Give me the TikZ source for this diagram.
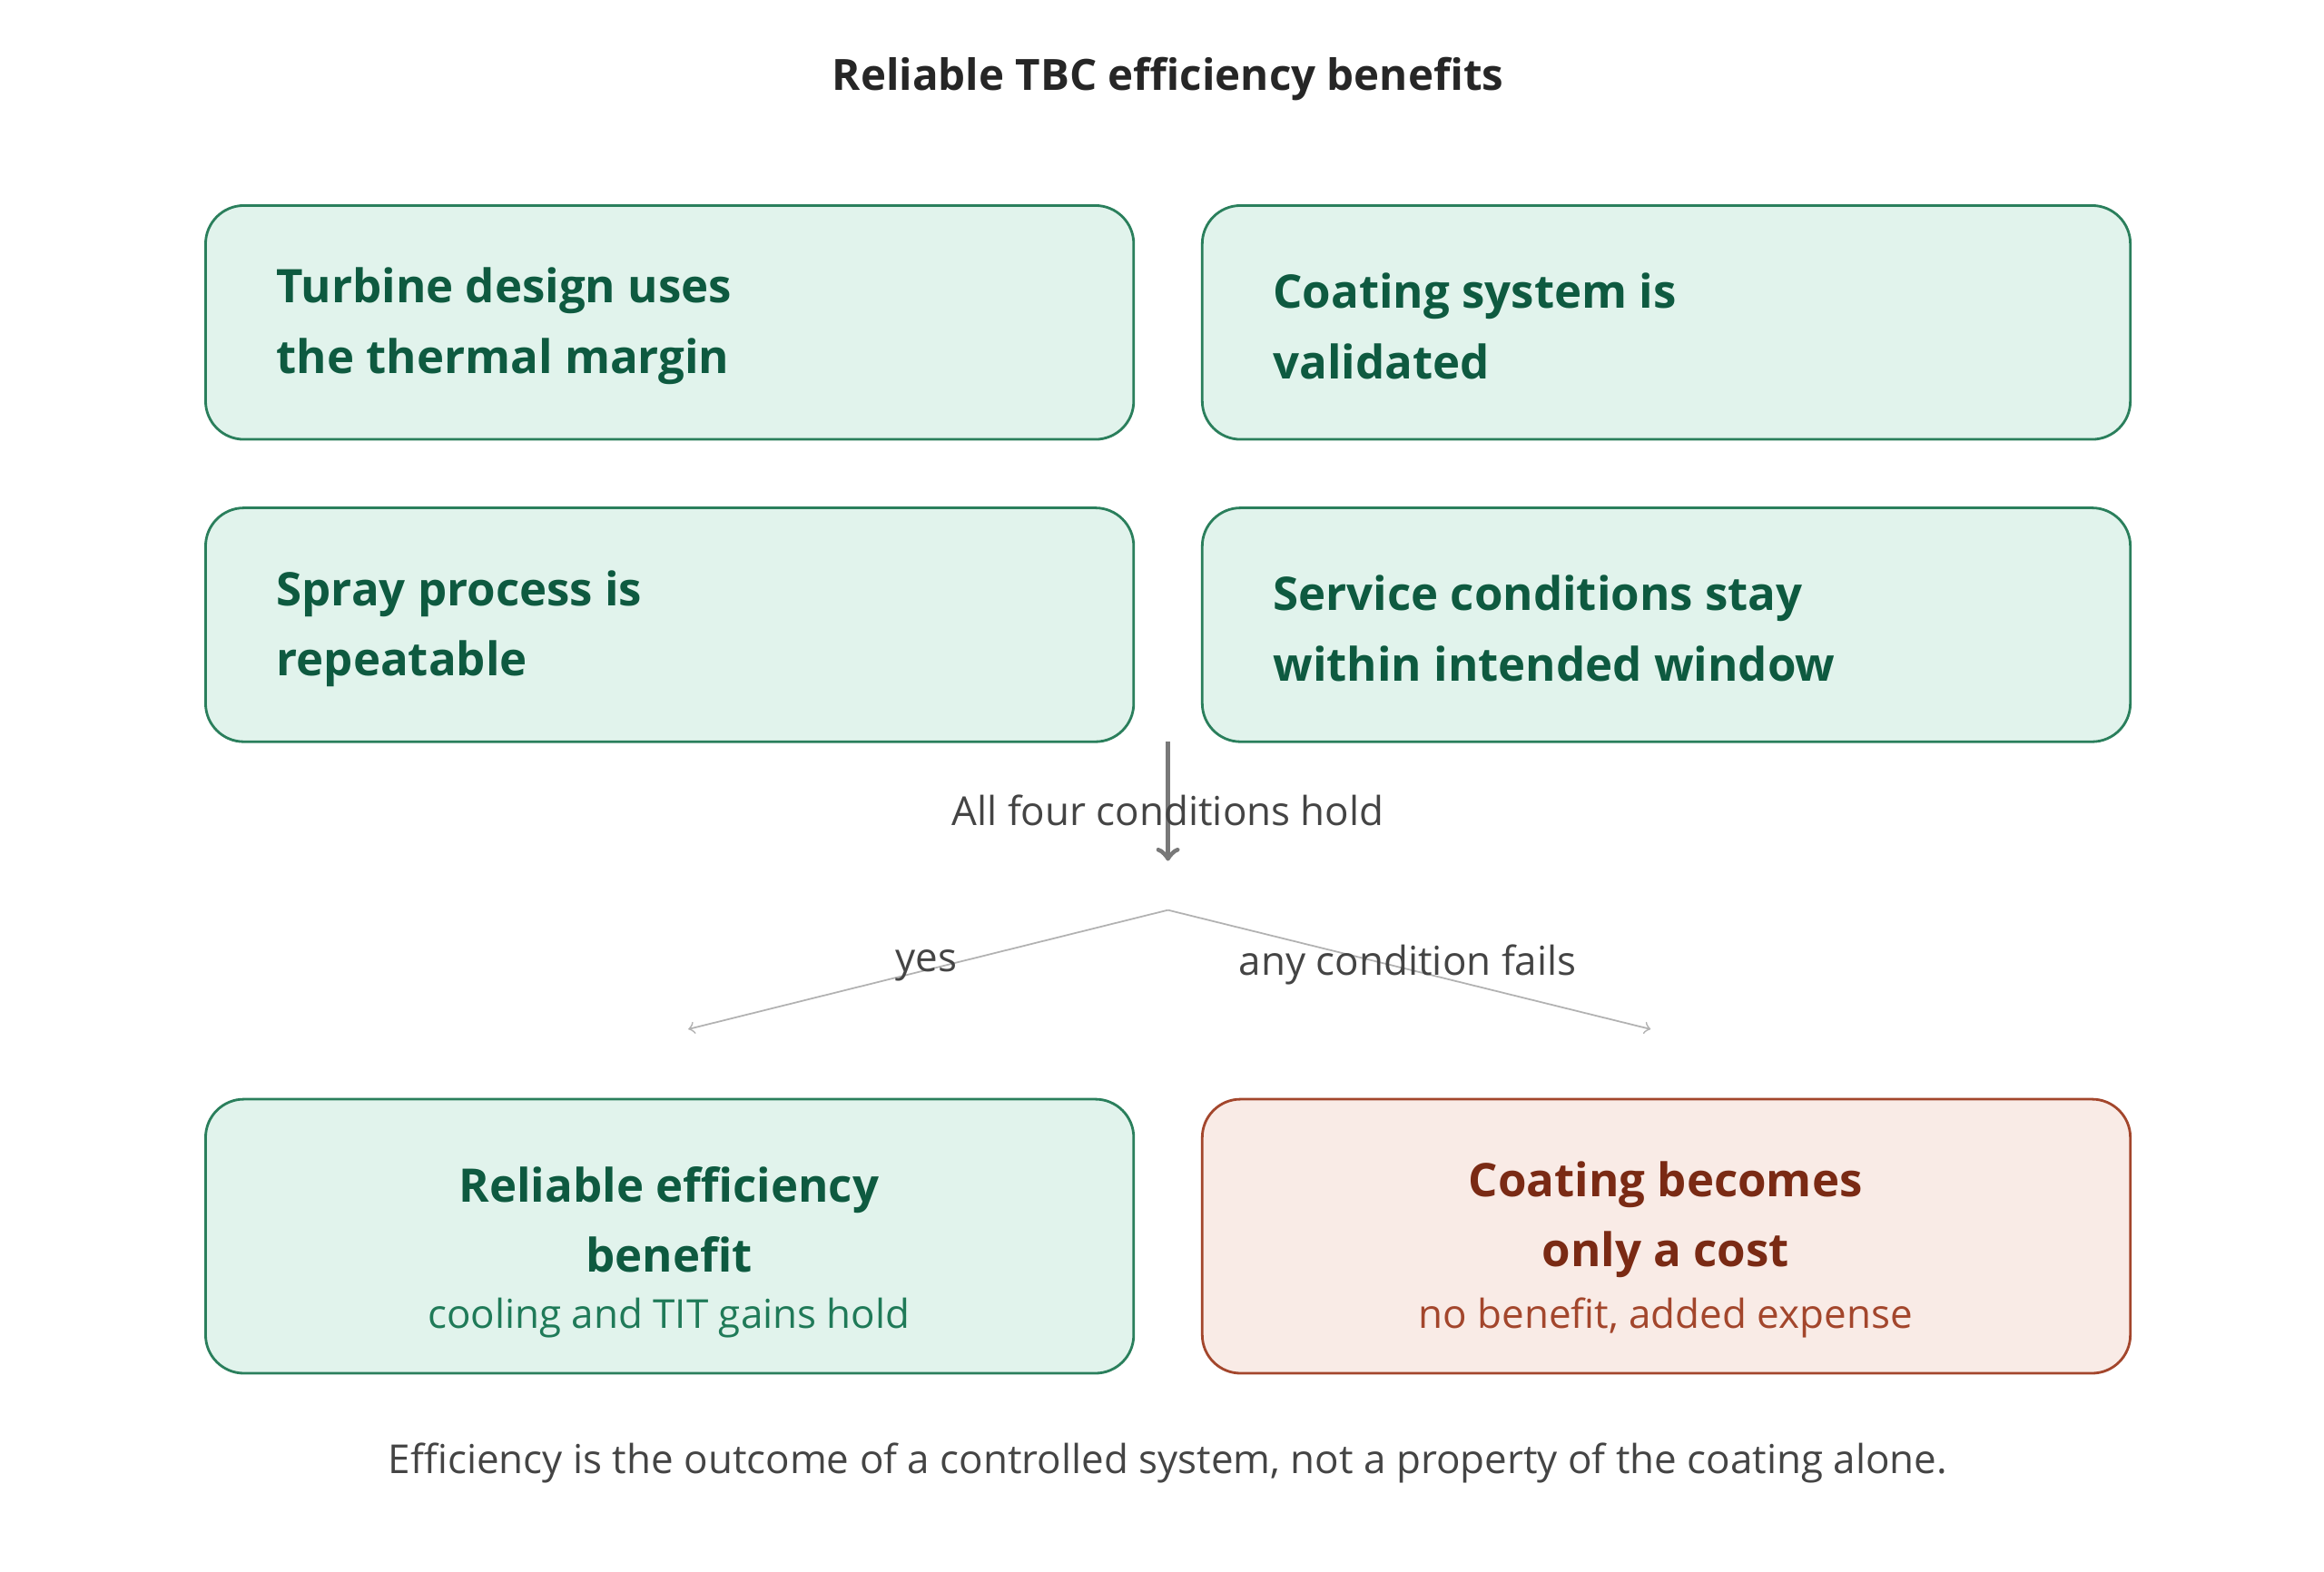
\documentclass[tikz,border=0pt]{standalone}
\usepackage{fontspec}
\setmainfont{Open Sans}
\usetikzlibrary{positioning}
\definecolor{gfill}{HTML}{E1F3EC}
\definecolor{gline}{HTML}{2A7F5C}
\definecolor{gtext}{HTML}{0E5A40}
\definecolor{gsub}{HTML}{1F7A58}
\definecolor{rfill}{HTML}{F9EBE6}
\definecolor{rline}{HTML}{A3462C}
\definecolor{rtext}{HTML}{7A2A14}
\definecolor{rsub}{HTML}{A3462C}
\definecolor{lbl}{HTML}{444444}
\begin{document}
\begin{tikzpicture}[x=0.01641cm,y=-0.01641cm,
    cond/.style={draw=gline, fill=gfill, rounded corners=12pt, line width=0.8pt},
    bad/.style={draw=rline, fill=rfill, rounded corners=12pt, line width=0.8pt},
    condtext/.style={anchor=west, align=left, text=gtext, font=\fontsize{14.5}{22}\selectfont\bfseries},
    lab/.style={text=lbl, font=\fontsize{12.5}{15}\selectfont}]
  \useasboundingbox (0,0) rectangle (1560,1055);
  \node[text=black!85, font=\fontsize{13.5}{16}\selectfont\bfseries] (title) at (784,53) {Reliable TBC efficiency benefits};
  % conditions
  \draw[cond] (138,138) rectangle (761,295);
  \draw[cond] (807,138) rectangle (1430,295);
  \draw[cond] (138,341) rectangle (761,498);
  \draw[cond] (807,341) rectangle (1430,498);
  \node[condtext] (design) at (178,219) {Turbine design uses\\the thermal margin};
  \node[condtext] (valid) at (847,219) {Coating system is\\validated};
  \node[condtext] (spray) at (178,422) {Spray process is\\repeatable};
  \node[condtext] (service) at (847,422) {Service conditions stay\\within intended window};
  % decision
  \coordinate (top) at (784,498);
  \coordinate (mid) at (784,578);
  \coordinate (fork) at (784,611);
  \coordinate (yesend) at (462,691);
  \coordinate (noend) at (1108,691);
  \draw[->, draw=gray!50!black!70, line width=1.6pt] (top) -- (mid);
  \node[lab] (hold) at (784,544) {All four conditions hold};
  \draw[->, draw=gray!60, line width=0.5pt] (fork) -- (yesend);
  \draw[->, draw=gray!60, line width=0.5pt] (fork) -- (noend);
  \node[lab] (yes) at (622,648) {yes};
  \node[lab] (fails) at (945,648) {any condition fails};
  % outcomes
  \draw[cond] (138,738) rectangle (761,922);
  \draw[bad] (807,738) rectangle (1430,922);
  \node[align=center, text=gtext, font=\fontsize{14.5}{22}\selectfont\bfseries] (benefit) at (449,819) {Reliable efficiency\\benefit};
  \node[text=gsub, font=\fontsize{12.5}{15}\selectfont] (benefitsub) at (449,885) {cooling and TIT gains hold};
  \node[align=center, text=rtext, font=\fontsize{14.5}{22}\selectfont\bfseries] (cost) at (1118,819) {Coating becomes\\only a cost};
  \node[text=rsub, font=\fontsize{12.5}{15}\selectfont] (costsub) at (1118,885) {no benefit, added expense};
  \node[lab] (note) at (784,982) {Efficiency is the outcome of a controlled system, not a property of the coating alone.};
\end{tikzpicture}
\end{document}
